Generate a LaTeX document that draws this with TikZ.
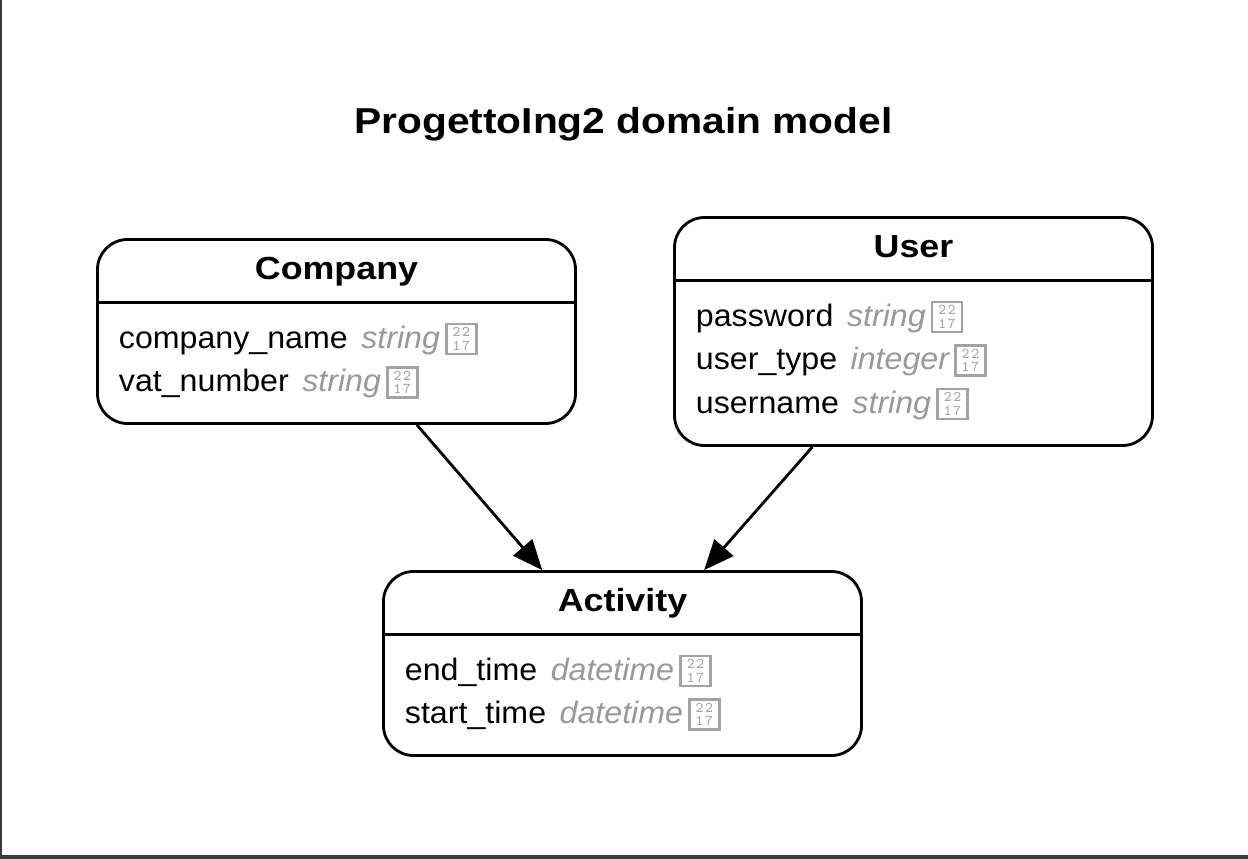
\documentclass[tikz,border=0pt]{standalone}
\usepackage{fontspec}
\setmainfont{Liberation Sans}
\usetikzlibrary{arrows.meta}

\definecolor{typegray}{HTML}{999999}
\definecolor{glyphgray}{HTML}{A3A3A3}
\definecolor{framegray}{HTML}{3A3A3A}

% box drawn in place of the missing glyph
\newcommand{\nochar}{\raisebox{-2.6pt}{\color{glyphgray}\setlength{\fboxrule}{1.5pt}\setlength{\fboxsep}{0pt}\fbox{\vbox to 15.6pt{\hsize=15.6pt\parindent=0pt\vss\centering\ttfamily\fontsize{8.5}{7.6}\selectfont 2\kern1pt2\par 1\kern1pt7\par\vss}}}}
\newcommand{\attr}[2]{#1\hspace{0.27cm}{\color{typegray}\itshape\addfontfeatures{FakeStretch=1.04}#2}\hspace{0.1cm}\nochar}

\tikzset{
  classbox/.style={draw, line width=1.6pt, rounded corners=0.6cm, minimum width=9.56cm, inner sep=0pt},
  classname/.style={anchor=base, inner sep=0pt, font=\fontsize{18.2}{22}\selectfont\bfseries\addfontfeatures{FakeStretch=1.12}},
  attrline/.style={anchor=base west, inner sep=0pt, font=\fontsize{17.6}{22}\selectfont\addfontfeatures{FakeStretch=1.04}},
  assoc/.style={line width=1.6pt, -{Triangle[length=0.6cm, width=0.5cm]}}
}

\begin{document}
\begin{tikzpicture}
  \useasboundingbox (0,0) rectangle (24.96,-17.18);
  \fill[white] (0,0) rectangle (24.96,-17.18);
  \fill[framegray] (0,0) rectangle (0.04,-17.18);
  \fill[framegray] (0,-17.10) rectangle (24.96,-17.18);

  \node[anchor=base, inner sep=0pt, font=\fontsize{20.5}{24}\selectfont\bfseries\addfontfeatures{FakeStretch=1.13}] (title) at (12.47,-2.68) {ProgettoIng2 domain model};

  % classes
  \node[classbox, minimum height=3.68cm] (company) at (6.73,-6.63) {};
  \node[classbox, minimum height=4.56cm] (user) at (18.27,-6.63) {};
  \node[classbox, minimum height=3.68cm] (activity) at (12.45,-13.27) {};

  \foreach \cls/\name in {company/Company, user/User, activity/Activity} {
    \node[classname] (\cls-head) at ([yshift=-0.82cm]\cls.north) {\name};
    \draw[line width=1.6pt] ([yshift=-1.29cm]\cls.north west) -- ([yshift=-1.29cm]\cls.north east);
  }

  % attributes
  \foreach \n/\t [count=\i] in {company\_name/string, vat\_number/string}
    \node[attrline] (company-\i) at ([xshift=0.45cm, yshift={-2.2cm-(\i-1)*0.87cm}]company.north west) {\attr{\n}{\t}};
  \foreach \n/\t [count=\i] in {password/string, user\_type/integer, username/string}
    \node[attrline] (user-\i) at ([xshift=0.45cm, yshift={-2.2cm-(\i-1)*0.87cm}]user.north west) {\attr{\n}{\t}};
  \foreach \n/\t [count=\i] in {end\_time/datetime, start\_time/datetime}
    \node[attrline] (activity-\i) at ([xshift=0.45cm, yshift={-2.2cm-(\i-1)*0.87cm}]activity.north west) {\attr{\n}{\t}};

  \draw[assoc] (company) -- (activity);
  \draw[assoc] (user) -- (activity);
\end{tikzpicture}
\end{document}
